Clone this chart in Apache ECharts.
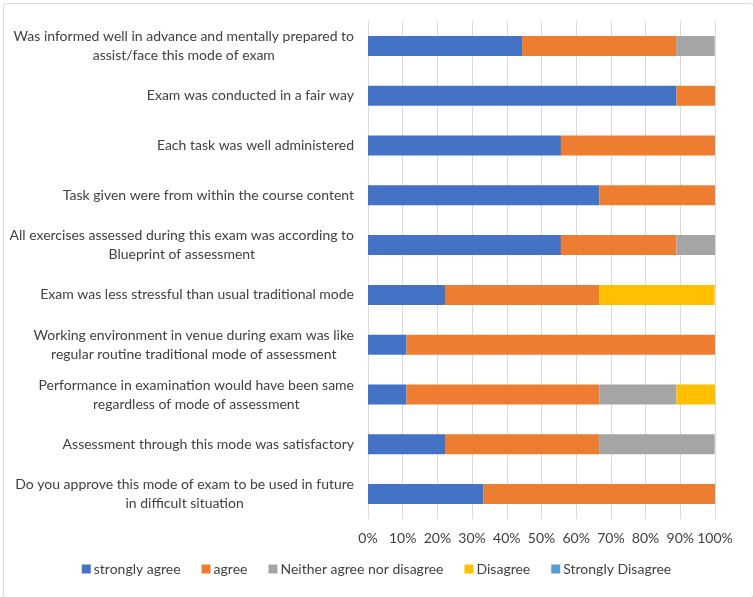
<!DOCTYPE html>
<html>
<head>
<meta charset="utf-8">
<script src="https://cdn.jsdelivr.net/npm/echarts@6/dist/echarts.min.js"></script>
<style>
html,body{margin:0;padding:0;background:#fff;}
#chart{width:753px;height:597px;}
</style>
</head>
<body>
<div id="chart"></div>
<script>
// Categories (top to bottom as shown)
const categories = [
  "Was informed well in advance and mentally prepared to\nassist/face this mode of exam",
  "Exam was conducted in a fair way",
  "Each task was well administered",
  "Task given were from within the course content",
  "All exercises assessed during this exam was according to\nBlueprint of assessment",
  "Exam was less stressful than usual traditional mode",
  "Working environment in venue during exam was like\nregular routine traditional mode of assessment",
  "Performance in examination would have been same\nregardless of mode of assessment",
  "Assessment through this mode was satisfactory",
  "Do you approve this mode of exam to be used in future\nin difficult situation"
];
const seriesNames = ["strongly agree", "agree", "Neither agree nor disagree", "Disagree", "Strongly Disagree"];
// percentages, same order as categories
const stronglyAgree = [44.4, 88.9, 55.6, 66.7, 55.6, 22.2, 11.1, 11.1, 22.2, 33.3];
const agree         = [44.4, 11.1, 44.4, 33.3, 33.3, 44.4, 88.9, 55.6, 44.4, 66.7];
const neither       = [11.1, 0, 0, 0, 11.1, 0, 0, 22.2, 33.3, 0];
const disagree      = [0, 0, 0, 0, 0, 33.3, 0, 11.1, 0, 0];
const stronglyDisagree = [0, 0, 0, 0, 0, 0, 0, 0, 0, 0];
const xTicks = [0, 10, 20, 30, 40, 50, 60, 70, 80, 90, 100];

const colors = ["#4472C4", "#ED7D31", "#A5A5A5", "#FFC000", "#5B9BD5"];
const dataSets = [stronglyAgree, agree, neither, disagree, stronglyDisagree];
const FONT = "'Lato', sans-serif";

const chart = echarts.init(document.getElementById('chart'));
chart.setOption({
  animation: false,
  color: colors,
  graphic: [{
    type: 'rect', left: 1, top: 1,
    shape: {x: 0, y: 0, width: 750, height: 594, r: 3},
    style: {fill: 'none', stroke: '#D9D9D9', lineWidth: 1},
    silent: true, z: -10
  }],
  grid: {left: 368, right: 38, top: 21, bottom: 78, containLabel: false},
  legend: {
    bottom: 16, left: 'center',
    icon: 'rect', itemWidth: 9, itemHeight: 9, itemGap: 21,
    textStyle: {fontFamily: FONT, fontSize: 14, color: '#404040', padding: [0, 0, 0, -2]},
    data: seriesNames
  },
  xAxis: {
    type: 'value', min: 0, max: 100, interval: 10,
    axisLine: {show: false}, axisTick: {show: false},
    splitLine: {show: true, lineStyle: {color: '#D9D9D9', width: 1}},
    axisLabel: {
      fontFamily: FONT, fontSize: 14, color: '#404040', margin: 12,
      formatter: v => xTicks.includes(v) ? v + '%' : ''
    }
  },
  yAxis: {
    type: 'category', inverse: true, data: categories,
    axisLine: {show: false}, axisTick: {show: false},
    axisLabel: {
      fontFamily: FONT, fontSize: 14, color: '#404040', margin: 14,
      align: 'right', lineHeight: 19,
      formatter: v => '{c|' + v + '}',
      rich: {c: {align: 'center', fontFamily: FONT, fontSize: 14, color: '#404040', lineHeight: 19}}
    }
  },
  series: seriesNames.map((n, i) => ({
    name: n, type: 'bar', stack: 'total', barWidth: 20,
    data: dataSets[i],
    itemStyle: {color: colors[i]}
  }))
});
</script>
</body>
</html>
